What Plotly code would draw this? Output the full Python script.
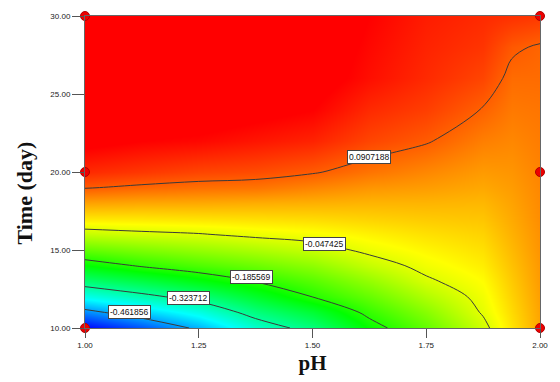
import plotly.graph_objects as go

# Factor levels of the response surface grid
ph_values = [1.0, 1.125, 1.25, 1.375, 1.5, 1.625, 1.75, 1.875, 1.9375, 2.0]
day_values = [10, 11, 12, 13, 14, 15, 16, 17, 18, 19, 20, 22, 24, 26, 28, 30]

# Predicted response, one row per day, one column per pH level
response = [
    [-0.580, -0.520, -0.450, -0.360, -0.300, -0.207, -0.140, -0.060, -0.005, 0.040],
    [-0.480, -0.427, -0.376, -0.300, -0.247, -0.172, -0.112, -0.043, 0.002, 0.042],
    [-0.383, -0.341, -0.300, -0.242, -0.185, -0.138, -0.083, -0.034, 0.008, 0.045],
    [-0.292, -0.259, -0.221, -0.183, -0.147, -0.103, -0.054, -0.024, 0.014, 0.048],
    [-0.214, -0.180, -0.156, -0.134, -0.108, -0.068, -0.035, -0.013, 0.020, 0.050],
    [-0.139, -0.119, -0.102, -0.085, -0.066, -0.038, -0.019, -0.003, 0.026, 0.053],
    [-0.067, -0.057, -0.050, -0.038, -0.030, -0.016, -0.003, 0.007, 0.032, 0.055],
    [-0.009, -0.008, -0.005, -0.002, 0.001, 0.007, 0.013, 0.017, 0.037, 0.058],
    [0.042, 0.038, 0.037, 0.034, 0.032, 0.029, 0.029, 0.027, 0.042, 0.060],
    [0.093, 0.084, 0.078, 0.075, 0.063, 0.051, 0.046, 0.038, 0.047, 0.062],
    [0.130, 0.120, 0.110, 0.105, 0.094, 0.076, 0.062, 0.048, 0.052, 0.065],
    [0.170, 0.160, 0.155, 0.145, 0.135, 0.110, 0.094, 0.068, 0.062, 0.070],
    [0.190, 0.185, 0.180, 0.170, 0.160, 0.130, 0.115, 0.089, 0.072, 0.075],
    [0.200, 0.195, 0.195, 0.185, 0.175, 0.150, 0.130, 0.110, 0.082, 0.082],
    [0.205, 0.200, 0.200, 0.195, 0.180, 0.155, 0.135, 0.122, 0.096, 0.087],
    [0.210, 0.205, 0.200, 0.200, 0.190, 0.160, 0.140, 0.130, 0.125, 0.120],
]

# Contour levels and where their labels sit (pH, day)
contour_levels = [-0.461856, -0.323712, -0.185569, -0.047425, 0.0907188]
label_ph = [1.097, 1.227, 1.365, 1.527, 1.624]
label_day = [11.0, 11.9, 13.25, 15.37, 20.95]

# Design points
design_ph = [1.0, 1.0, 1.0, 2.0, 2.0, 2.0]
design_day = [10, 20, 30, 10, 20, 30]

rainbow = [
    [0.0, "rgb(0,0,255)"],
    [0.25, "rgb(0,255,255)"],
    [0.5, "rgb(0,255,0)"],
    [0.75, "rgb(255,255,0)"],
    [1.0, "rgb(255,0,0)"],
]

fig = go.Figure()

fig.add_trace(go.Heatmap(
    x=ph_values, y=day_values, z=response,
    colorscale=rainbow, zmin=-0.58, zmax=0.16,
    zsmooth="best", showscale=False, hoverinfo="skip",
))

step = contour_levels[1] - contour_levels[0]
fig.add_trace(go.Contour(
    x=ph_values, y=day_values, z=response,
    autocontour=False,
    contours=dict(start=contour_levels[0], end=contour_levels[-1] + step / 10,
                  size=step, coloring="none"),
    line=dict(color="#3a3a3a", width=1),
    showscale=False, hoverinfo="skip",
))

fig.add_trace(go.Scatter(
    x=design_ph, y=design_day, mode="markers",
    marker=dict(color="#ee0000", size=9, line=dict(color="#b00000", width=1)),
    cliponaxis=False, hoverinfo="skip", showlegend=False,
))

for lv, lx, ly in zip(contour_levels, label_ph, label_day):
    fig.add_annotation(
        x=lx, y=ly, xref="x", yref="y", text=f"{lv:g}",
        showarrow=False, bgcolor="white", bordercolor="#444",
        borderwidth=1, borderpad=1,
        font=dict(family="Arial, Liberation Sans", size=8.5, color="#111"),
    )

# Vertical axis title, set a little below the middle of the axis
fig.add_annotation(
    x=-0.132, y=0.434, xref="paper", yref="paper",
    text="<b>Time (day)</b>", textangle=-90, showarrow=False,
    xanchor="center", yanchor="middle",
    font=dict(family="Liberation Serif, Times New Roman", size=22, color="#111"),
)

fig.update_layout(
    width=560, height=382,
    margin=dict(l=85, r=12, t=15, b=54),
    paper_bgcolor="white", plot_bgcolor="white",
    showlegend=False,
    xaxis=dict(
        range=[1.0, 2.0], tickvals=[1.0, 1.25, 1.5, 1.75, 2.0], tickformat=".2f",
        ticks="outside", ticklen=9, tickcolor="#555", showgrid=False, zeroline=False,
        showline=True, mirror=True, linecolor="#666", linewidth=1,
        tickfont=dict(family="Arial, Liberation Sans", size=8, color="#222"),
        title=dict(text="<b>pH</b>", standoff=6,
                   font=dict(family="Liberation Serif, Times New Roman", size=21, color="#111")),
    ),
    yaxis=dict(
        range=[10, 30], tickvals=[10, 15, 20, 25, 30], tickformat=".2f",
        ticks="outside", ticklen=12, tickcolor="#555", showgrid=False, zeroline=False,
        showline=True, mirror=True, linecolor="#666", linewidth=1,
        tickfont=dict(family="Arial, Liberation Sans", size=8, color="#222"),
    ),
)

fig.write_html("out.html")
